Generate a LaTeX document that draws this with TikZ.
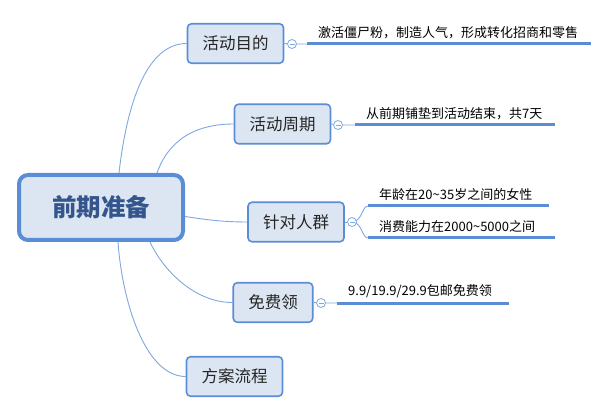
\documentclass[tikz,border=0pt]{standalone}
\usepackage{fontspec}
\setmainfont{Noto Sans CJK SC}
\usetikzlibrary{backgrounds}
\definecolor{boxfill}{HTML}{DCE6F2}
\definecolor{boxline}{HTML}{5B8DD6}
\definecolor{branchline}{HTML}{7FA7E0}
\definecolor{roottext}{HTML}{34568C}
\tikzset{
  rootbox/.style={draw=boxline, line width=4pt, fill=boxfill, rounded corners=9pt,
    minimum width=164pt, minimum height=65pt, text=roottext,
    font=\fontsize{24.5}{24.5}\selectfont\bfseries},
  topicbox/.style={draw=boxline, line width=1.6pt, fill=boxfill, rounded corners=4pt,
    minimum height=39.5pt, inner xsep=15pt, text=black!85,
    font=\fontsize{16.5}{16.5}\selectfont},
  fold/.style={circle, draw=branchline, fill=white, line width=0.8pt, minimum size=9pt,
    inner sep=0pt, path picture={\draw[branchline, line width=0.8pt]
      ([xshift=-2.5pt]path picture bounding box.center) -- ([xshift=2.5pt]path picture bounding box.center);}},
  leaf/.style={anchor=south west, inner xsep=11pt, inner ysep=5pt,
    font=\fontsize{13}{13}\selectfont},
  leafline/.style={draw=boxline, line width=3pt},
  branch/.style={draw=branchline, line width=0.9pt},
}
\begin{document}
\begin{tikzpicture}[x=1pt,y=-1pt]
  \useasboundingbox (0,0) rectangle (608,414);

  % main topic and its branches
  \node[rootbox] (root) at (101,207.5) {前期准备};
  \node[topicbox] (goal) at (235.5,43.5) {活动目的};
  \node[topicbox] (period) at (282.5,124) {活动周期};
  \node[topicbox] (crowd) at (296,222) {针对人群};
  \node[topicbox] (free) at (273,302.5) {免费领};
  \node[topicbox] (flow) at (234.5,376.5) {方案流程};

  % fold markers
  \node[fold] (goalfold) at (292,44) {};
  \node[fold] (periodfold) at (338,125) {};
  \node[fold] (crowdfold) at (352,222) {};
  \node[fold] (freefold) at (321,303) {};

  % details
  \node[leaf] (goaltxt) at (307,44) {激活僵尸粉，制造人气，形成转化招商和零售};
  \node[leaf] (periodtxt) at (355,125) {从前期铺垫到活动结束，共7天};
  \node[leaf] (agetxt) at (368,206) {年龄在20\textasciitilde35岁之间的女性};
  \node[leaf] (paytxt) at (368,238) {消费能力在2000\textasciitilde5000之间};
  \node[leaf] (freetxt) at (337,303) {9.9/19.9/29.9包邮免费领};

  \foreach \t/\len in {goaltxt/284,periodtxt/200,agetxt/181,paytxt/187,freetxt/172} {
    \draw[leafline] (\t.south west) -- ++(\len,0);
  }

  \begin{pgfonlayer}{background}
    \draw[branch] ([xshift=18pt]root.north) .. controls +(8,-70) and +(-40,0) .. (goal.west);
    \draw[branch] ([xshift=56pt]root.north) .. controls +(8,-23) and +(-49,0) .. (period.west);
    \draw[branch] ([yshift=-9pt]root.east) .. controls +(20,3) and +(-25,0) .. (crowd.west);
    \draw[branch] ([xshift=49pt]root.south) .. controls +(13,28) and +(-38,0) .. (free.west);
    \draw[branch] ([xshift=17pt]root.south) .. controls +(4,58) and +(-41,0) .. (flow.west);

    \draw[branch] (goal.east) -- (goalfold) -- (goaltxt.south west);
    \draw[branch] (period.east) -- (periodfold) -- (periodtxt.south west);
    \draw[branch] (crowd.east) -- (crowdfold);
    \draw[branch] (free.east) -- (freefold) -- (freetxt.south west);
    \draw[branch] (crowdfold.center) .. controls +(10,0) and +(-6,0) .. (agetxt.south west);
    \draw[branch] (crowdfold.center) .. controls +(10,0) and +(-6,0) .. (paytxt.south west);
  \end{pgfonlayer}
\end{tikzpicture}
\end{document}
